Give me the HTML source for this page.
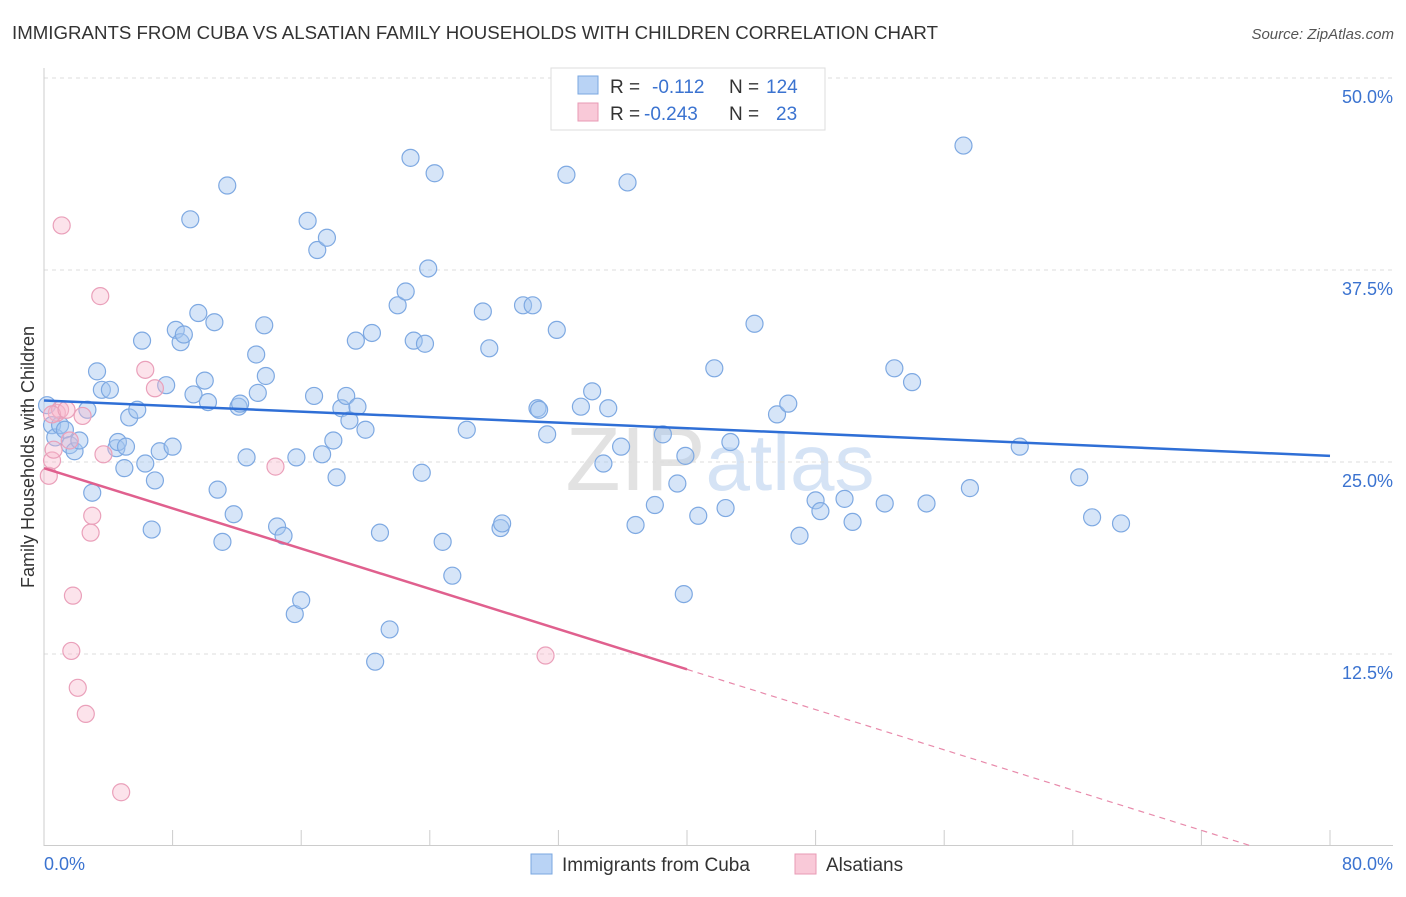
<!DOCTYPE html>
<html><head><meta charset="utf-8"><style>
body{margin:0;background:#fff;font-family:"Liberation Sans",sans-serif;}
svg text{font-family:"Liberation Sans",sans-serif;}
</style></head><body>
<svg id="chart" width="1406" height="892" viewBox="0 0 1406 892" xmlns="http://www.w3.org/2000/svg">
<text x="12" y="39" font-size="18" fill="#333" textLength="926" lengthAdjust="spacingAndGlyphs">IMMIGRANTS FROM CUBA VS ALSATIAN FAMILY HOUSEHOLDS WITH CHILDREN CORRELATION CHART</text>
<text x="1394" y="39" font-size="15" fill="#555" text-anchor="end" font-style="italic">Source: ZipAtlas.com</text>
<text x="720" y="490" font-size="90" fill="#e4e8ee" text-anchor="middle" font-family="Liberation Serif"><tspan fill="#e2e2e2">ZIP</tspan><tspan fill="#d5e3f5" font-family="Liberation Sans" font-size="80">atlas</tspan></text>
<g id="grid"></g>
<g id="axes"></g>
<g id="marks"></g>
<g id="trends"></g>
<text transform="translate(34,457) rotate(-90)" font-size="18" fill="#333" text-anchor="middle">Family Households with Children</text>
<text x="44" y="870" font-size="18" fill="#3b73d0">0.0%</text>
<text x="1393" y="870" font-size="18" fill="#3b73d0" text-anchor="end">80.0%</text>
<g>
<rect x="551" y="68" width="274" height="62" fill="#fff" stroke="#ddd"/>
<rect x="578" y="76" width="20" height="18" fill="#b9d3f5" stroke="#7aa7e0"/>
<rect x="578" y="103" width="20" height="18" fill="#f9c9d8" stroke="#e89ab5"/>
<text x="610" y="93" font-size="19" fill="#333">R = </text>
<text x="652" y="93" font-size="19" fill="#3b73d0">-0.112</text>
<text x="729" y="93" font-size="19" fill="#333">N = </text>
<text x="766" y="93" font-size="19" fill="#3b73d0">124</text>
<text x="610" y="120" font-size="19" fill="#333">R = </text>
<text x="644" y="120" font-size="19" fill="#3b73d0">-0.243</text>
<text x="729" y="120" font-size="19" fill="#333">N = </text>
<text x="776" y="120" font-size="19" fill="#3b73d0">23</text>
</g>
<g>
<rect x="531" y="854" width="21" height="20" fill="#b9d3f5" stroke="#7aa7e0"/>
<text x="562" y="871" font-size="19" fill="#333">Immigrants from Cuba</text>
</g>
<g>
<rect x="795" y="854" width="21" height="20" fill="#f9c9d8" stroke="#e89ab5"/>
<text x="826" y="871" font-size="19" fill="#333">Alsatians</text>
</g>
</svg>
<script>
const yTicks=[12.5,25,37.5,50];
const yTickLabels=["12.5%","25.0%","37.5%","50.0%"];
const xTicks=[0,8,16,24,32,40,48,56,64,72,80];
const blueX=[0.19,0.5,0.7,1.0,1.3,1.6,1.9,2.2,2.7,3.0,3.3,3.6,4.1,4.5,4.6,5.0,5.1,5.3,5.8,6.1,6.3,6.7,6.9,7.2,7.6,8.0,8.2,8.5,8.7,9.1,9.3,9.6,10.0,10.2,10.6,10.8,11.1,11.4,11.8,12.1,12.2,12.6,13.2,13.3,13.7,13.8,14.5,14.9,15.6,15.7,16.0,16.4,16.8,17.0,17.3,17.6,18.0,18.2,18.5,18.8,19.0,19.4,19.5,20.0,20.4,20.6,20.9,21.5,22.0,22.5,22.8,23.0,23.5,23.7,23.9,24.3,24.8,25.4,26.3,27.3,27.7,28.4,28.5,29.8,30.4,30.7,30.8,31.3,31.9,32.5,33.4,34.1,34.8,35.1,35.9,36.3,36.8,38.0,38.5,39.4,39.8,39.9,40.7,41.7,42.4,42.7,44.2,45.6,46.3,47.0,48.0,48.3,49.8,50.3,52.3,52.9,54.0,54.9,57.2,57.6,60.7,64.4,65.2,67.0];
const blueY=[28.7,27.4,26.6,27.4,27.1,26.1,25.7,26.4,28.4,23.0,30.9,29.7,29.7,25.9,26.3,24.6,26.0,27.9,28.4,32.9,24.9,20.6,23.8,25.7,30.0,26.0,33.6,32.8,33.3,40.8,29.4,34.7,30.3,28.9,34.1,23.2,19.8,43.0,21.6,28.6,28.8,25.3,32.0,29.5,33.9,30.6,20.8,20.2,15.1,25.3,16.0,40.7,29.3,38.8,25.5,39.6,26.4,24.0,28.5,29.3,27.7,32.9,28.6,27.1,33.4,12.0,20.4,14.1,35.2,36.1,44.8,32.9,24.3,32.7,37.6,43.8,19.8,17.6,27.1,34.8,32.4,20.7,21.0,35.2,35.2,28.5,28.4,26.8,33.6,43.7,28.6,29.6,24.9,28.5,26.0,43.2,20.9,22.2,26.8,23.6,16.4,25.4,21.5,31.1,22.0,26.3,34.0,28.1,28.8,20.2,22.5,21.8,22.6,21.1,22.3,31.1,30.2,22.3,45.6,23.3,26.0,24.0,21.4,21.0];
const pinkX=[0.3,0.5,0.6,0.8,1.0,1.1,1.6,1.7,1.8,2.1,2.4,2.6,2.9,3.0,3.5,3.7,4.8,6.3,6.9,14.4,31.2,0.5,1.4];
const pinkY=[24.1,25.1,25.8,28.2,28.4,40.4,26.4,12.7,16.3,10.3,28.0,8.6,20.4,21.5,35.8,25.5,3.5,31.0,29.8,24.7,12.4,28.1,28.4];
const blueTrend=[29.0,25.4];
const pinkTrend=[24.6,11.5];
const pinkSolidEnd=40;

const NS="http://www.w3.org/2000/svg";
const X=v=>44+v/80*1286;
const Y=v=>846-v*15.36;
function mk(tag,attrs,parent){const e=document.createElementNS(NS,tag);for(const k in attrs)e.setAttribute(k,attrs[k]);parent.appendChild(e);return e;}
const grid=document.getElementById('grid'),axes=document.getElementById('axes'),marks=document.getElementById('marks'),trends=document.getElementById('trends');
mk('line',{x1:44,x2:1393,y1:78,y2:78,stroke:'#ddd','stroke-dasharray':'4,4'},grid);
yTicks.forEach((t,i)=>{
 const l=mk('line',{x1:44,x2:1393,y1:Y(t),y2:Y(t),stroke:'#ddd','stroke-dasharray':'4,4'},grid);
 
 
 const tx=mk('text',{x:1393,y:Y(t)+25,'font-size':18,fill:'#3b73d0','text-anchor':'end'},grid);
 tx.textContent=yTickLabels[i];
 
 
});
mk('line',{x1:44,x2:44,y1:68,y2:846,stroke:'#ccc'},axes);
mk('line',{x1:44,x2:1393,y1:845.5,y2:845.5,stroke:'#ccc'},axes);
xTicks.forEach(t=>{
 const l=mk('line',{x1:X(t),x2:X(t),y1:830,y2:846,stroke:'#ccc'},axes);
 
 
});
blueX.forEach((v,i)=>{
 const c=mk('circle',{cx:X(v),cy:Y(blueY[i]),r:8.5,fill:'rgba(165,198,240,0.45)',stroke:'#7ea9e2','stroke-width':1.2},marks);
 
 
});
pinkX.forEach((v,i)=>{
 const c=mk('circle',{cx:X(v),cy:Y(pinkY[i]),r:8.5,fill:'rgba(248,185,205,0.4)',stroke:'#eaa0ba','stroke-width':1.2},marks);
 
 
});
const bl=mk('line',{x1:X(0),y1:Y(blueTrend[0]),x2:X(80),y2:Y(blueTrend[1]),stroke:'#2f6fd6','stroke-width':2.5},trends);


const slope=(pinkTrend[1]-pinkTrend[0])/pinkSolidEnd;
const zeroX=-pinkTrend[0]/slope;
const pl=mk('line',{x1:X(0),y1:Y(pinkTrend[0]),x2:X(pinkSolidEnd),y2:Y(pinkTrend[1]),stroke:'#e0608e','stroke-width':2.5},trends);


const pd=mk('line',{x1:X(pinkSolidEnd),y1:Y(pinkTrend[1]),x2:X(zeroX),y2:Y(0),stroke:'#e88aab','stroke-width':1.2,'stroke-dasharray':'6,5'},trends);


</script>
</body></html>
